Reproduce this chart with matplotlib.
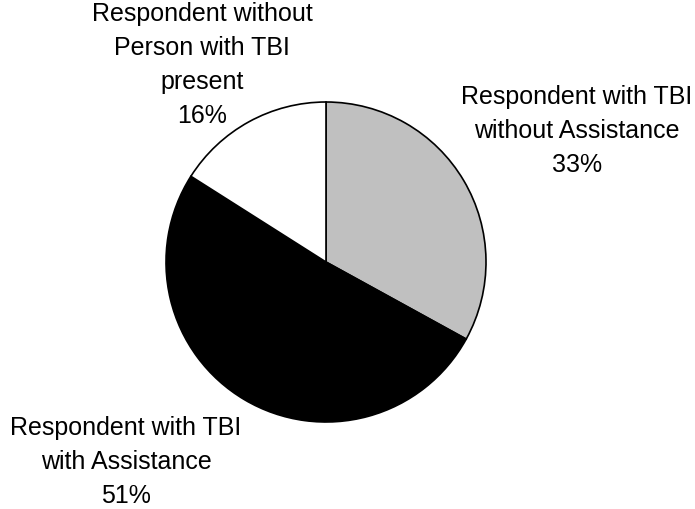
import matplotlib.pyplot as plt

plt.rcParams['font.family'] = ['Liberation Sans', 'DejaVu Sans']

shares = [33, 51, 16]
labels = ["Respondent with TBI\nwithout Assistance\n33%",
          "Respondent with TBI\nwith Assistance\n51%",
          "Respondent without\nPerson with TBI\npresent\n16%"]
colors = ["#c0c0c0", "#000000", "#ffffff"]

W, H = 695, 509
fig = plt.figure(figsize=(W / 100, H / 100), dpi=100)
ax = fig.add_axes([0, 0, 1, 1])

ax.pie(shares, colors=colors, startangle=90, counterclock=False,
       center=(326, H - 262), radius=160,
       wedgeprops=dict(edgecolor='black', linewidth=1.2))

# pie() resets the view, so fix the pixel-sized limits afterwards
ax.set_xlim(0, W)
ax.set_ylim(0, H)
ax.set_aspect('equal')
ax.axis('off')

# label positions (pixel coords from the top-left)
label_xy = [(577, 131), (126, 462), (202, 65)]
for txt, (x, y) in zip(labels, label_xy):
    ax.text(x, H - y, txt, ha='center', va='center', fontsize=18,
            linespacing=1.52)

fig.savefig("out.png", dpi=100)
